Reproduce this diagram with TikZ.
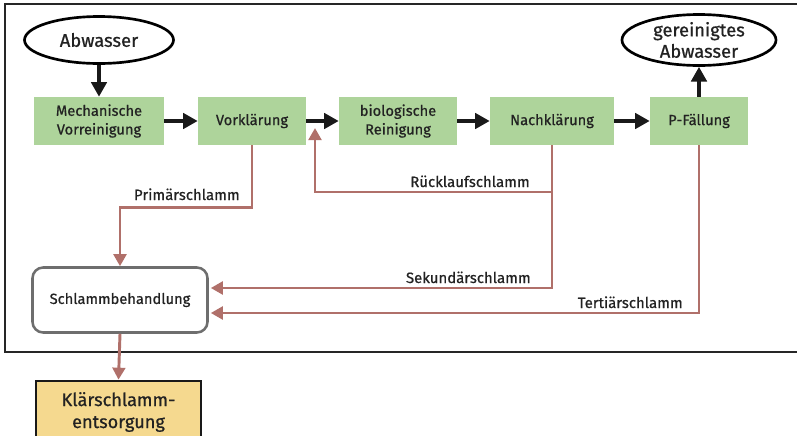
\documentclass[tikz,border=0pt]{standalone}
\usepackage{fontspec}
\setmainfont{Fira Sans}[FakeBold=0.7]
\usetikzlibrary{arrows.meta,shapes.geometric,calc}
\definecolor{boxgreen}{HTML}{AED49B}
\definecolor{sludge}{HTML}{B0706A}
\definecolor{txt}{HTML}{222222}
\definecolor{yel}{HTML}{F5D98F}
\definecolor{gbord}{HTML}{6E6E6E}
\tikzset{
  proc/.style={fill=boxgreen, inner sep=0pt, minimum height=48*0.75pt, align=center, text=txt, font=\fontsize{11pt}{14pt}\selectfont},
  oval/.style={ellipse, draw=black, line width=2pt, fill=white, inner sep=0pt, align=center, text=txt, font=\fontsize{13.8pt}{16pt}\selectfont},
  blk/.style={line width=3.2pt, draw=black!90, -{Triangle[length=11pt,width=11.5pt]}},
  brn/.style={line width=2.2pt, draw=sludge, -{Triangle[length=9pt,width=9.5pt]}},
  lbl/.style={text=txt, inner sep=0pt, font=\fontsize{11.2pt}{13pt}\selectfont}
}
\begin{document}
\begin{tikzpicture}[x=0.75pt,y=-0.75pt]
\useasboundingbox (0,0) rectangle (797,436);
% outer frame
\draw[line width=2.2pt, draw=black!85] (810,4) -- (5,4) -- (5,352) -- (810,352);
% nodes
\node[oval, minimum width=149*0.75pt, minimum height=47*0.75pt] (abw) at (99,40) {Abwasser};
\node[oval, minimum width=154*0.75pt, minimum height=51*0.75pt] (ger) at (699,40) {gereinigtes\\Abwasser};
\node[proc, minimum width=130*0.75pt] (mech) at (99,121) {Mechanische\\Vorreinigung};
\node[proc, minimum width=108*0.75pt] (vor) at (252,121) {Vorklärung};
\node[proc, minimum width=118*0.75pt] (bio) at (398,121) {biologische\\Reinigung};
\node[proc, minimum width=124*0.75pt] (nach) at (552,121) {Nachklärung};
\node[proc, minimum width=98*0.75pt] (pf) at (699,121) {P-Fällung};
\node[draw=gbord, line width=1.9pt, rounded corners=8pt, fill=white, minimum width=175*0.75pt, minimum height=65*0.75pt, inner sep=0pt, text=txt, font=\fontsize{11pt}{14pt}\selectfont] (schl) at (120,300) {Schlammbehandlung};
\node[draw=black!90, line width=2pt, fill=yel, minimum width=165*0.75pt, minimum height=62*0.75pt, inner sep=0pt, align=center, text=txt, font=\fontsize{13.6pt}{16.5pt}\selectfont] (kl) at (118.5,412) {Klärschlamm-\\entsorgung};
% black arrows
\draw[blk] (abw.south) -- (mech.north);
\draw[blk] (mech.east) -- (vor.west);
\draw[blk] (vor.east) -- (bio.west);
\draw[blk] (bio.east) -- (nach.west);
\draw[blk] (nach.east) -- (pf.west);
\draw[blk] (pf.north) -- (ger.south);
% sludge lines
\coordinate (rk) at (552,192);
\coordinate (rtip) at (315,128);
\draw[brn] (rk) -- (rtip |- rk) -- (rtip);
\draw[brn] (nach.south) |- ($(schl.east)+(2,-12)$);
\draw[brn] (pf.south) |- ($(schl.east)+(2,13)$);
\draw[brn] (vor.south) -- ($(vor.south)+(0,62)$) -| (schl.north);
\draw[brn] (schl.south) -- (kl.north);
% labels
\node[lbl, anchor=base east] at (240,200) {Primärschlamm};
\node[lbl, anchor=base east] at (530,187) {Rücklaufschlamm};
\node[lbl, anchor=base east] at (531,283) {Sekundärschlamm};
\node[lbl, anchor=base east] at (683,308) {Tertiärschlamm};
\end{tikzpicture}
\end{document}
